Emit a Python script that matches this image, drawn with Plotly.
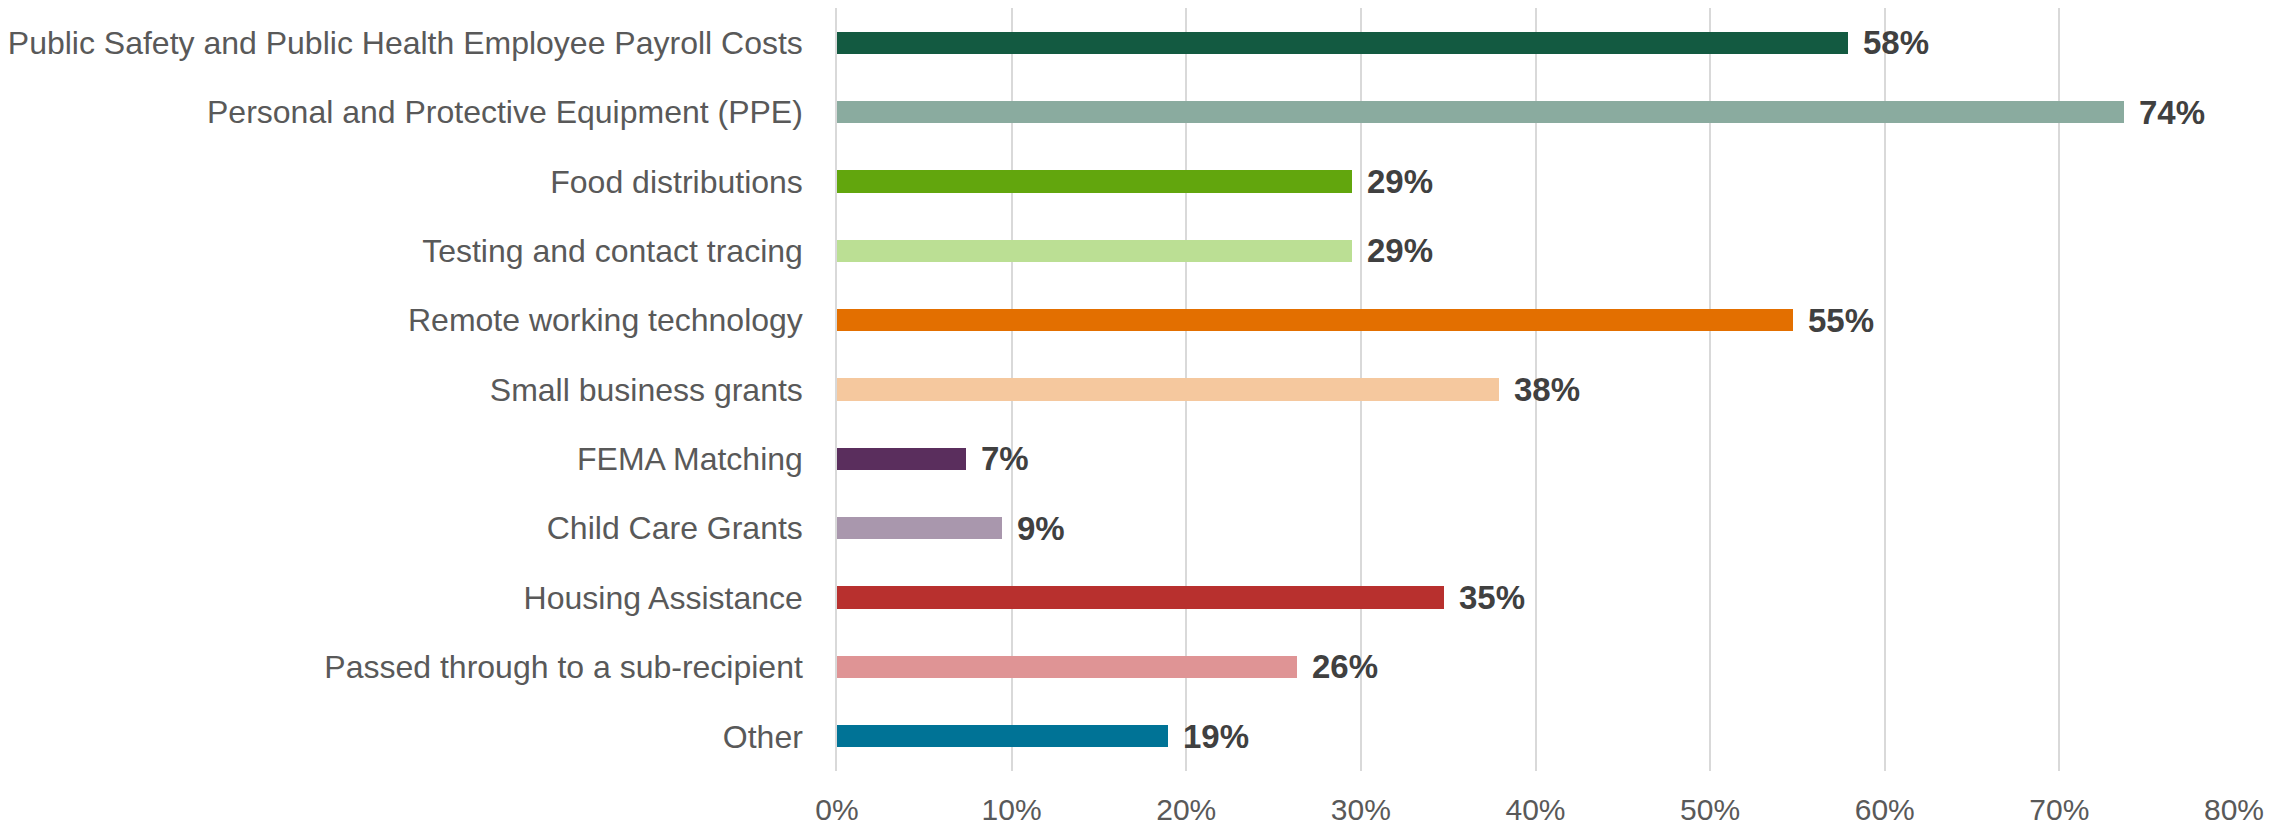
import plotly.graph_objects as go

categories = [
    "Public Safety and Public Health Employee Payroll Costs",
    "Personal and Protective Equipment (PPE)",
    "Food distributions",
    "Testing and contact tracing",
    "Remote working technology",
    "Small business grants",
    "FEMA Matching",
    "Child Care Grants",
    "Housing Assistance",
    "Passed through to a sub-recipient",
    "Other",
]
values = [57.89, 73.68, 29.47, 29.47, 54.74, 37.89, 7.37, 9.47, 34.74, 26.32, 18.95]
colors = ["#135a41", "#8aab9f", "#62a60d", "#bbdf94", "#e36f00", "#f5c89e",
          "#5a2e5d", "#a997ad", "#b8302e", "#df9495", "#007396"]
x_ticks = [0, 10, 20, 30, 40, 50, 60, 70, 80]
x_tick_labels = ["0%", "10%", "20%", "30%", "40%", "50%", "60%", "70%", "80%"]

FONT = "Liberation Sans, Arial, sans-serif"

fig = go.Figure()
fig.add_trace(go.Bar(
    x=values, y=categories, orientation="h",
    marker=dict(color=colors, line=dict(width=0)),
    width=0.32, hoverinfo="skip",
))

for v, c in zip(values, categories):
    fig.add_annotation(
        x=v, y=c, xref="x", yref="y", text=f"<b>{round(v):d}%</b>",
        showarrow=False, xanchor="left", yanchor="middle", xshift=13,
        font=dict(family=FONT, size=33, color="#404040"),
    )

fig.update_layout(
    width=2292, height=826,
    margin=dict(l=826, r=66, t=0, b=63, pad=0),
    paper_bgcolor="white", plot_bgcolor="white",
    showlegend=False,
    bargap=0,
    font=dict(family=FONT, color="#595959"),
)
fig.update_xaxes(
    range=[0, 80], tickvals=x_ticks, ticktext=x_tick_labels,
    showgrid=True, gridcolor="#d9d9d9", gridwidth=1.5,
    zeroline=False, showline=False, ticks="",
    tickfont=dict(family=FONT, size=30, color="#595959"),
    ticklabelstandoff=18,
)
fig.update_yaxes(
    autorange="reversed", showgrid=False, zeroline=False,
    showline=True, linecolor="#d9d9d9", linewidth=1.5,
    ticks="", tickfont=dict(family=FONT, size=32, color="#595959"),
    ticklabelstandoff=26,
)

fig.write_html("out.html")
